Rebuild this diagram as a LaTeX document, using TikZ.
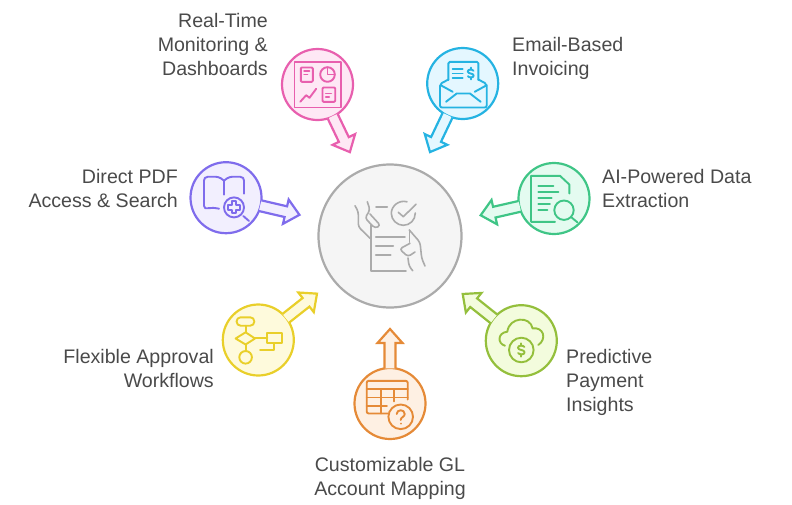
\documentclass[tikz,border=0pt]{standalone}
\usepackage{fontspec}
\setmainfont{Liberation Sans}
\usetikzlibrary{calc}

\begin{document}
\begin{tikzpicture}[x=1pt, y=-1pt,
    every node/.style={font=\fontsize{19.6}{24}\selectfont, text=labelgray, inner sep=0pt},
    bubble/.style={circle, draw=#1line, fill=#1fill, line width=2.2pt, minimum size=71pt},
    spoke/.style={draw=#1line, fill=#1fill, line width=2.2pt},
    glyph/.style={draw=#1line, line width=1.9pt, line cap=round, line join=round},
    dollar/.pic={
        \draw (3.3,-3.2) .. controls (2,-5.2) and (-3.5,-5.2) .. (-3.5,-2.4)
            .. controls (-3.5,0.6) and (3.5,-0.6) .. (3.5,2.4)
            .. controls (3.5,5.2) and (-2,5.2) .. (-3.3,3.2);
        \draw (0,-7) -- (0,-4.6) (0,4.6) -- (0,7);
    }]
    % Define consistent colors
    \definecolor{labelgray}{HTML}{4A4A4A}
    \definecolor{hubline}{HTML}{ABABAB}
    \definecolor{hubfill}{HTML}{F5F5F5}
    \definecolor{rosyline}{HTML}{E85FAE}
    \definecolor{rosyfill}{HTML}{FEE8F5}
    \definecolor{skyline}{HTML}{25B3E2}
    \definecolor{skyfill}{HTML}{E4F7FF}
    \definecolor{mintline}{HTML}{3FC586}
    \definecolor{mintfill}{HTML}{E4FBF0}
    \definecolor{limeline}{HTML}{94BF3C}
    \definecolor{limefill}{HTML}{F3FCDD}
    \definecolor{amberline}{HTML}{E58A37}
    \definecolor{amberfill}{HTML}{FEF0E3}
    \definecolor{goldline}{HTML}{E9CF2A}
    \definecolor{goldfill}{HTML}{FEFADC}
    \definecolor{violetline}{HTML}{7F6CEC}
    \definecolor{violetfill}{HTML}{F2EFFE}

    \useasboundingbox (0,0) rectangle (792,504);

    % Hub
    \node[bubble=hub, minimum size=143pt] (hub) at (390,236) {};

    % Bubbles with their arrows
    \foreach \name/\tone/\cx/\cy in {monitoring/rosy/317.5/84.5, invoicing/sky/462.7/83.5,
            extraction/mint/554/198.5, insights/lime/521.3/340.7, mapping/amber/390/403.5,
            workflows/gold/258.3/340, search/violet/226/197.7} {
        \node[bubble=\tone] (\name) at (\cx,\cy) {};
        \coordinate (tip) at ($(hub)!93pt!(\name)$);
        \coordinate (back) at ($(hub)!107pt!(\name)$);
        \draw[spoke=\tone] ($(\name)!35.5pt!8.9:(hub)$) -- ($(back)!5.5pt!90:(hub)$)
            -- ($(back)!12.5pt!90:(hub)$) -- (tip) -- ($(back)!12.5pt!-90:(hub)$)
            -- ($(back)!5.5pt!-90:(hub)$) -- ($(\name)!35.5pt!-8.9:(hub)$);
    }

    % Hub icon
    \begin{scope}[shift={(hub)}, glyph=hub, line width=1.6pt]
        \draw (-19,-11) -- (-19,34.7) -- (16,34.7);
        \draw (19.3,-6) -- (19.3,6.3);
        \draw (-14.3,0.7) -- (15,0.7) (-14.3,9.7) -- (3.3,9.7) (-14.3,19) -- (0.7,19);
        \draw (-14,-29) -- (-2.7,-29);
        \draw (17,-34.2) .. controls (9,-36.5) and (1.3,-30) .. (1.3,-22.7)
            .. controls (1.3,-16) and (7,-10.7) .. (13.3,-10.7)
            .. controls (20,-10.7) and (25.3,-16) .. (25.3,-23);
        \draw (8.3,-23.7) -- (13.3,-19.3) -- (26,-31.7);
        \draw[rounded corners=3pt] (-35,-30.3) -- (-31.7,-24.3) -- (-31.7,-9.3) -- (-20,2.3);
        \draw[rounded corners=3pt] (-22.7,-34.3) -- (-20,-26) -- (-25,-18) -- (-15,-7.7) -- (-9.5,-10.5) -- (-20,-22);
        \draw[rounded corners=3pt] (19.3,-6) -- (30,6.3) -- (31.7,22.3) -- (35,30);
        \draw[rounded corners=3pt] (20,7.3) -- (9.5,13) -- (18,20.7) -- (25,16);
        \draw[rounded corners=3pt] (18,22) -- (19,30) -- (22.7,34.7);
    \end{scope}

    % Dashboard icon
    \begin{scope}[shift={(monitoring)}, glyph=rosy]
        \draw (-23,-22.7) rectangle (23.3,23);
        \draw[rounded corners=1pt] (-16.7,-17) rectangle (-4.7,-2.7);
        \draw (-13.3,-13.7) -- (-8,-13.7) (-13.3,-10) -- (-10,-10);
        \draw (10,-10) circle (7.3pt);
        \draw (10,-17.3) -- (10,-10) -- (17.3,-10);
        \draw (-17.3,17.3) -- (-11.3,10.7) -- (-8,13.3) -- (-1.3,4.3);
        \draw[rounded corners=1pt] (5,3) rectangle (17.7,17.3);
        \draw (8.3,9) -- (13.7,9) (8.3,12.7) -- (11.7,12.7);
    \end{scope}

    % Envelope icon
    \begin{scope}[shift={(invoicing)}, glyph=sky]
        \draw[rounded corners=1.5pt] (-14.3,-3.5) -- (-14.3,-21.7) -- (15.7,-21.7) -- (15.7,-3.5);
        \draw (-10,-14.3) -- (0,-14.3) (-10,-10) -- (0,-10) (-10,-5.7) -- (0,-5.7);
        \draw[rounded corners=2pt] (-14.3,-4) -- (-22.7,0.5) -- (-22.7,24) -- (24,24) -- (24,0.5) -- (15.7,-4);
        \draw (-22,1.7) -- (-10,8.3) (24,1.7) -- (12,8.3);
        \draw (-16.7,18.3) -- (-6,10) -- (7.3,10) -- (18,18.3);
        \draw (8,-10) pic[scale=0.85] {dollar};
    \end{scope}

    % Document search icon
    \begin{scope}[shift={(extraction)}, glyph=mint]
        \draw (15.3,-5) -- (15.3,-14) -- (6,-22.7) -- (-23,-22.7) -- (-23,23.3) -- (1,23.3);
        \draw (-15.7,-12.7) -- (-0.7,-12.7) (-15.7,-6.7) -- (4.3,-6.7) (-15.7,-0.7) -- (-2.3,-0.7)
            (-15.7,5.3) -- (-4,5.3) (-15.7,11.3) -- (-6.7,11.3);
        \draw (10,11.7) circle (9.7pt);
        \draw (16.7,18.3) -- (23.3,23.7);
    \end{scope}

    % Cloud coin icon
    \begin{scope}[shift={(insights)}, glyph=lime]
        \draw (-16.3,5) .. controls (-24,3) and (-24,-8) .. (-14,-9)
            .. controls (-12,-24) and (9,-25) .. (11.3,-12.3)
            .. controls (22,-14) and (26,-2) .. (17,4.3);
        \draw (0,9.3) circle (12.3pt);
        \draw (0,9.3) pic[scale=0.95] {dollar};
    \end{scope}

    % Table icon
    \begin{scope}[shift={(mapping)}, glyph=amber]
        \draw[rounded corners=2pt] (17.7,-4) -- (17.7,-22.7) -- (-23.3,-22.7) -- (-23.3,10) -- (-2,10);
        \draw (-23.3,-14.3) -- (17.7,-14.3) (-23.3,-6) -- (17.7,-6) (-23.3,2.3) -- (-3,2.3);
        \draw (-9.3,-14.3) -- (-9.3,10) (4.3,-14.3) -- (4.3,-2);
        \draw (10.7,13.3) circle (12.3pt);
        \draw (6.7,10.5) .. controls (6.7,5.5) and (14.7,5.5) .. (14.7,10.5)
            .. controls (14.7,13.5) and (10.7,13.5) .. (10.7,16.5);
        \draw (10.7,20) -- (10.7,20.2);
    \end{scope}

    % Flowchart icon
    \begin{scope}[shift={(workflows)}, glyph=gold]
        \draw[rounded corners=4pt] (-21.7,-22.7) rectangle (-4,-14.3);
        \draw (-12.7,-14.3) -- (-12.7,-7.7);
        \draw (-22.7,-1.5) -- (-12.7,-7.7) -- (-3.3,-1.5) -- (-12.7,4.5) -- cycle;
        \draw (-12.7,4.5) -- (-12.7,11);
        \draw (-12.7,17.3) circle (6.3pt);
        \draw (-3.3,-1.7) -- (9,-1.7);
        \draw (9,-7.3) rectangle (23.3,3.3);
        \draw (16,3.3) -- (16,10) -- (1.7,10);
    \end{scope}

    % Book icon
    \begin{scope}[shift={(search)}, glyph=violet]
        \draw (-2,-17) .. controls (-6,-21) and (-10,-21) .. (-12,-21) -- (-18,-21)
            .. controls (-21,-21) and (-22,-19) .. (-22,-17) -- (-22,8)
            .. controls (-22,11) and (-20,11) .. (-18,10.5) .. controls (-14,10) and (-12,10) .. (-7,11);
        \draw (-2,-17) -- (-2,-3);
        \draw (-2,-17) .. controls (2,-21) and (6,-21) .. (8,-21) -- (14,-21)
            .. controls (17,-21) and (18,-19) .. (18,-17) -- (18,-4);
        \draw (8,9.7) circle (10pt);
        \draw (17.3,18.3) -- (23,23.3);
        \draw (5.7,3.7) -- (10.3,3.7) -- (10.3,7.4) -- (14,7.4) -- (14,12) -- (10.3,12) -- (10.3,15.7)
            -- (5.7,15.7) -- (5.7,12) -- (2,12) -- (2,7.4) -- (5.7,7.4) -- cycle;
    \end{scope}

    % Labels
    \node[align=right, anchor=east] (monitoringtext) at (268,44) {Real-Time\\Monitoring \&\\Dashboards};
    \node[align=left, anchor=west] (invoicingtext) at (512,58) {Email-Based\\Invoicing};
    \node[align=left, anchor=west] (extractiontext) at (602,188) {AI-Powered Data\\Extraction};
    \node[align=left, anchor=west] (insightstext) at (566,382) {Predictive\\Payment\\Insights};
    \node[align=center] (mappingtext) at (390,478) {Customizable GL\\Account Mapping};
    \node[align=right, anchor=east] (workflowstext) at (214,368) {Flexible Approval\\Workflows};
    \node[align=right, anchor=east] (searchtext) at (178,188) {Direct PDF\\Access \& Search};
\end{tikzpicture}
\end{document}
